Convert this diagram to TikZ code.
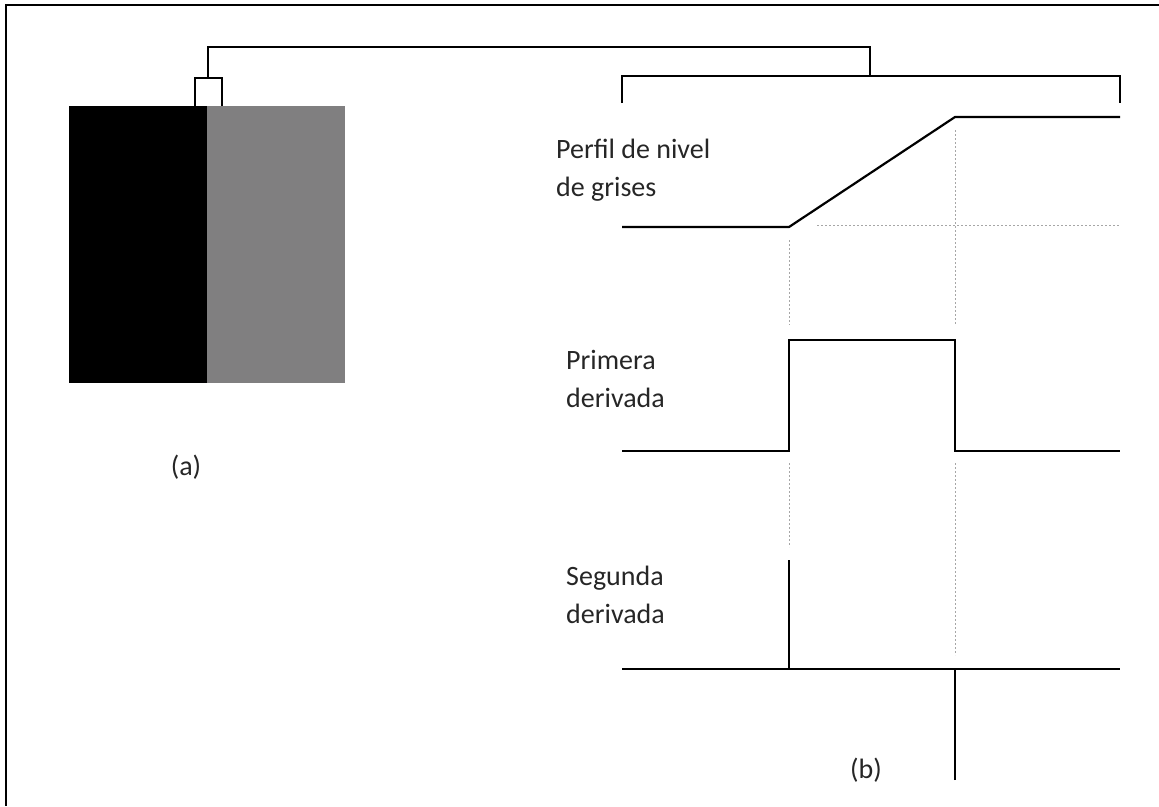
\documentclass[tikz,border=0pt]{standalone}
\usepackage{fontspec}
\setmainfont{Carlito}
\definecolor{gris}{RGB}{128,127,128}
\begin{document}
\begin{tikzpicture}[x=1pt, y=-1pt, line join=miter, font=\fontsize{28}{38}\selectfont,
	curva/.style={line width=2.2pt},
	fina/.style={line width=1.4pt},
	guia/.style={gray!70, line width=0.9pt, dash pattern=on 2pt off 2pt},
	texto/.style={anchor=west, align=left, inner sep=0pt, text=black!85}]
	\useasboundingbox (0,0) rectangle (1159,806);
	\def\xa{622} % inicio de las curvas
	\def\xb{789} % comienzo del borde
	\def\xc{955} % fin del borde
	\def\xd{1120} % final de las curvas
	% marco
	\draw[line width=1.8pt] (1159,5)--(6,5)--(6,806);
	% (a) imagen con el borde
	\fill[black] (69,106) rectangle (207,383);
	\fill[gris] (207,106) rectangle (345,383);
	\coordinate (S) at (208,78);
	\coordinate (T) at (870,47);
	\draw[fina] (195,106)--(195,78)--(222,78)--(222,106);
	\draw[fina] (S)--(S|-T)--(T)--(870,76);
	\draw[fina] (\xa,103)--(\xa,76)--(\xd,76)--(\xd,103);
	% perfil
	\coordinate (A) at (\xb,227);
	\coordinate (B) at (\xc,117);
	\draw[curva] (\xa,227)--(A)--(B)--(\xd,117);
	\draw[guia] (817,225)--(\xd,225);
	\draw[guia] (\xb,240)--(\xb,325);
	\draw[guia] (\xc,130)--(\xc,325);
	% primera derivada
	\coordinate (C) at (\xb,340);
	\coordinate (D) at (\xc,340);
	\draw[curva] (\xa,451)--(C|-{0,451})--(C)--(D)--(D|-{0,451})--(\xd,451);
	\draw[guia] (\xb,463)--(\xb,547);
	\draw[guia] (\xc,463)--(\xc,655);
	% segunda derivada
	\coordinate (E) at (\xb,560);
	\coordinate (F) at (\xc,780);
	\draw[curva] (\xa,669)--(\xd,669);
	\draw[curva] (E)--(E|-{0,669});
	\draw[curva] (F)--(F|-{0,669});
	% textos
	\node[texto] (perfil) at (556,170) {Perfil de nivel\\de grises};
	\node[texto] (primera) at (566,379) {Primera\\derivada};
	\node[texto] (segunda) at (566,595) {Segunda\\derivada};
	\node[text=black!85] (a) at (186,467) {(a)};
	\node[text=black!85] (b) at (866,770) {(b)};
\end{tikzpicture}
\end{document}
